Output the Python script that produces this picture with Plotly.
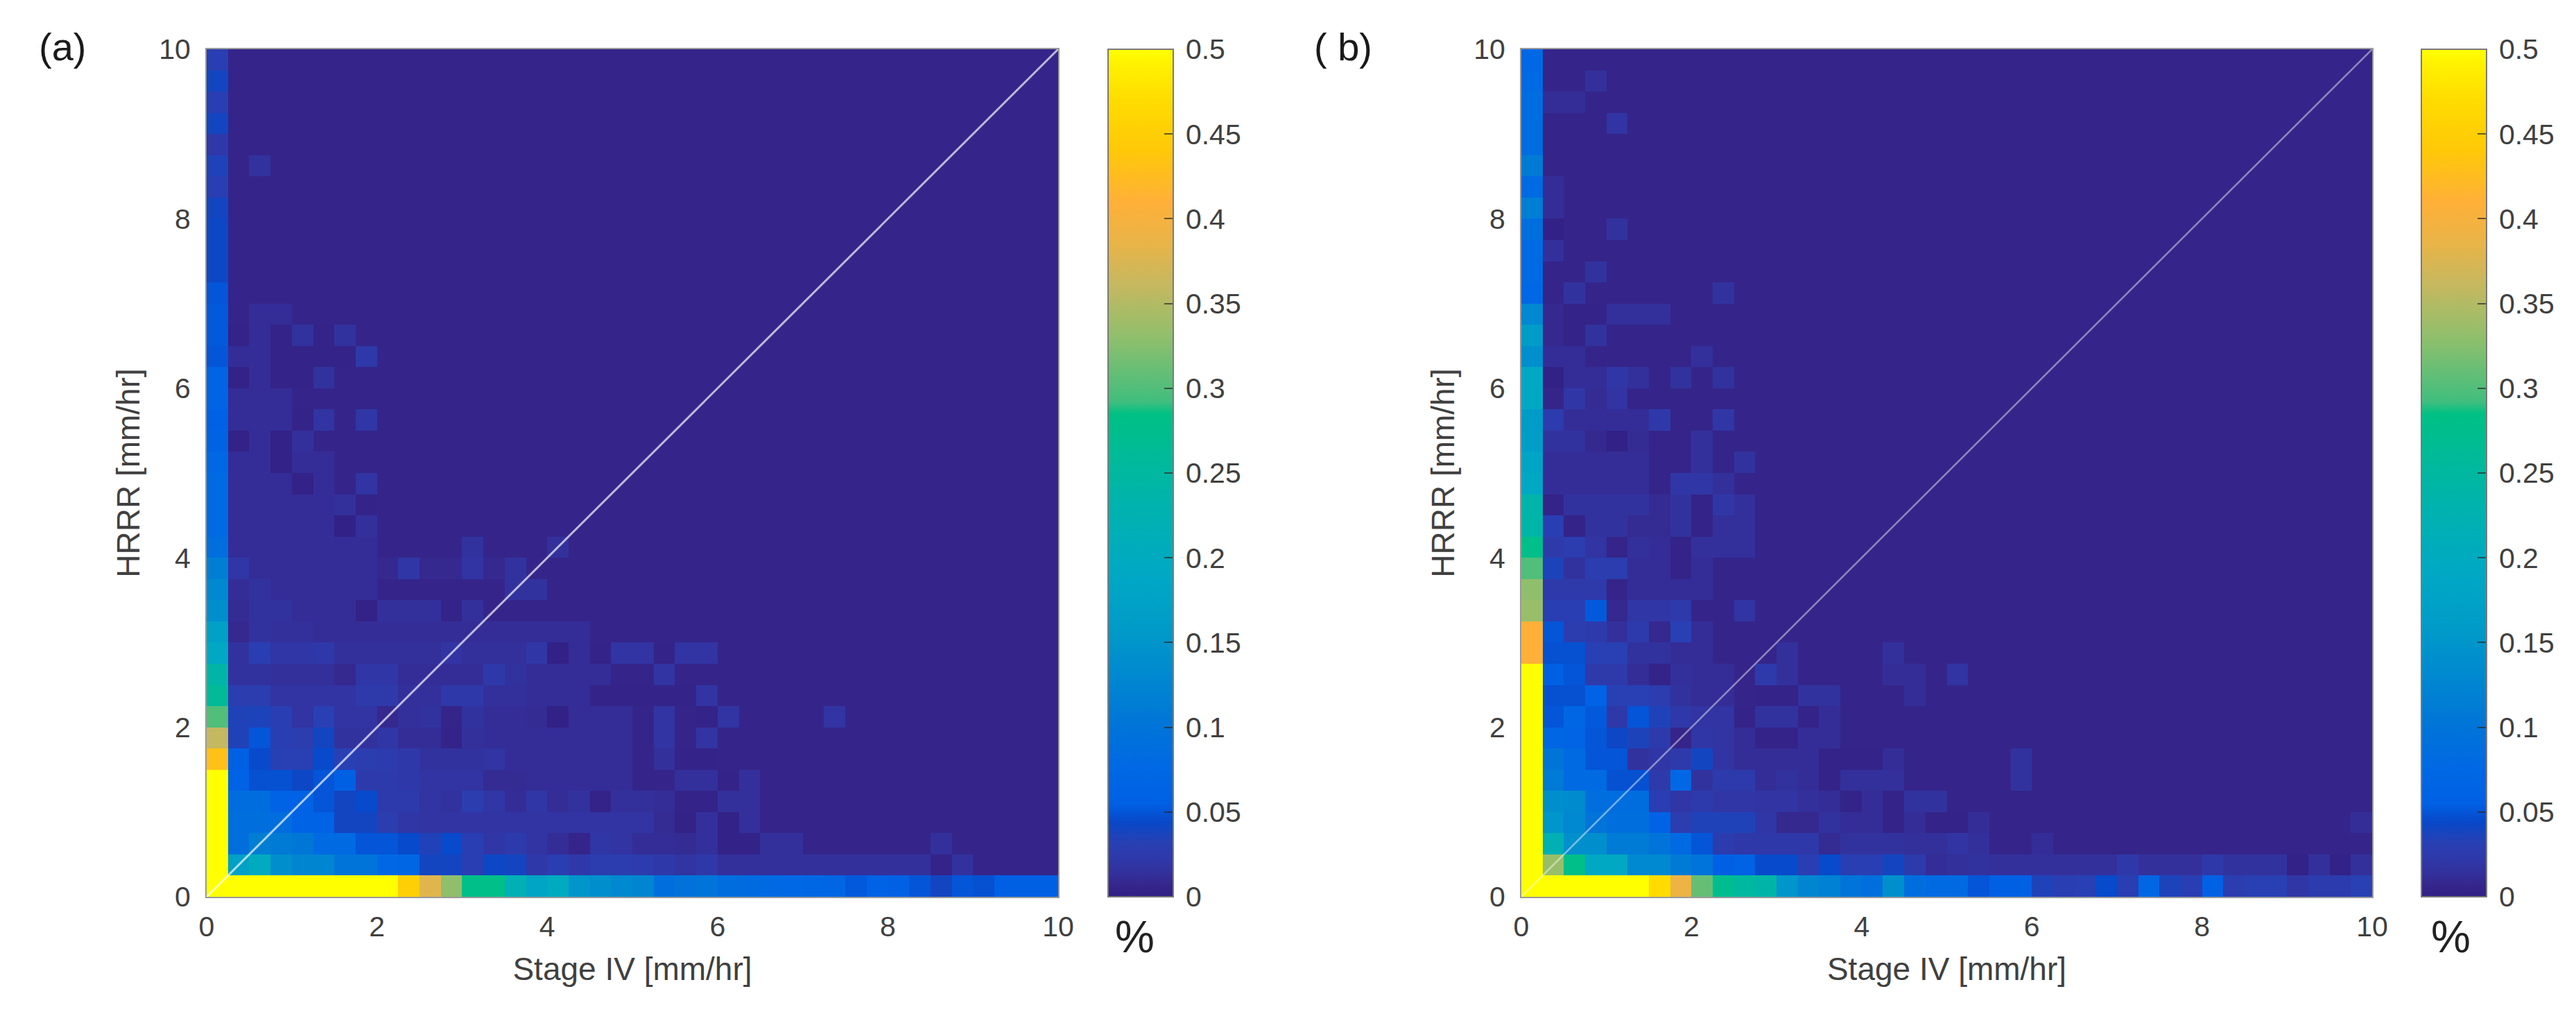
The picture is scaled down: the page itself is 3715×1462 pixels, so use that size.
import numpy as np
import plotly.graph_objects as go

W, H = 3715, 1462
N_BINS = 40
BIN_W = 0.25
BG = 6  # empty cell, thousandths of a percent

tick_xy = [0, 2, 4, 6, 8, 10]
tick_cb = [0, 0.05, 0.1, 0.15, 0.2, 0.25, 0.3, 0.35, 0.4, 0.45, 0.5]
tick_cb_text = ["0", "0.05", "0.1", "0.15", "0.2", "0.25", "0.3", "0.35", "0.4", "0.45", "0.5"]

# all values: thousandths of a percent
a_left = [500,500,500,500,500,500,430,360,300,260,240,190,170,140,130,115,90,80,80,80,
          75,62,58,65,65,50,52,52,50,42,42,42,40,30,35,22,40,30,40,30]
a_bottom = [500,500,500,500,500,500,500,500,500,450,380,330,280,280,220,180,200,150,140,130,
            125,90,95,100,85,82,80,75,72,70,52,60,58,50,40,50,48,56,56,56]
a_rows = {
 1:[170,200,140,125,125,100,100,75,70,40,40,30,42,40,22,30,22,28,28,26,22,18,22,14,14,14,14,14,14,14,14,14,14,4,16],
 2:[90,115,110,105,80,80,50,50,45,35,45,30,20,25,18,12,6,20,18,12,12,10,14,3,3,14,14,6,6,6,6,6,6,14],
 3:[90,90,85,60,60,40,40,28,20,18,18,18,18,18,18,18,18,18,18,18,10,3,14,3,14],
 4:[85,85,60,60,50,40,45,25,25,18,16,28,20,12,20,12,16,4,14,14,12,4,4,14,14],
 5:[60,48,48,42,50,55,25,25,22,18,18,18,10,10,12,12,12,12,12,6,6,14,14,4,14],
 6:[55,45,32,32,45,32,28,26,22,16,16,16,18,12,12,12,12,12,12,6,14,4,4],
 7:[35,50,30,28,40,16,16,20,12,12,4,14,12,12,12,12,12,12,12,6,18,6,18],
 8:[35,36,30,18,32,18,18,8,14,16,6,16,12,12,10,2,12,12,12,6,18,6,4,18,6,6,6,6,18],
 9:[28,28,18,18,18,18,24,24,14,14,22,22,14,14,12,12,12,5,5,5,5,5,18],
 10:[16,16,14,14,14,8,20,20,12,12,12,12,22,16,12,12,12,12,6,6,18],
 11:[16,30,20,20,22,14,14,14,14,14,18,14,14,14,20,2,12,4,18,18,4,18,18],
 12:[8,16,14,14,12,12,12,12,12,12,12,12,12,12,12,12,12],
 13:[10,16,16,12,12,12,3,14,14,14,4,14],
 14:[12,16,12,12,12,12,12,6,6,6,6,6,6,16,16],
 15:[20,12,12,12,12,12,12,8,20,8,8,18,8,16],
 16:[12,12,12,12,12,12,12,6,6,6,6,16,6,6,6,14],
 17:[12,12,12,12,12,2,14],
 18:[12,12,12,12,12,14,4],
 19:[12,12,12,3,12,6,18],
 20:[12,12,3,12,12],
 21:[3,12,3,14,6],
 22:[12,12,12,4,18,6,20],
 23:[12,12,12],
 24:[3,12,4,4,16],
 25:[12,12,4,4,4,4,22],
 26:[4,12,4,16,4,16],
 27:[6,12,12],
 34:[6,16],
}

b_left = [500,500,500,500,500,500,500,500,500,500,500,410,410,335,330,300,280,240,235,190,
          180,165,160,190,190,140,160,130,75,80,80,90,115,80,110,85,85,85,80,75]
b_bottom = [500,500,500,500,500,500,470,390,310,270,250,240,150,125,120,100,90,140,85,80,
            80,50,55,55,35,30,32,45,30,70,36,30,58,28,32,32,20,26,26,32]
b_rows = {
 1:[335,280,190,190,130,130,110,100,55,60,45,45,30,45,30,30,40,25,12,14,16,14,14,14,14,14,14,22,14,14,14,22,16,16,16,3,14,3,14],
 2:[220,140,140,110,110,100,80,50,26,22,22,22,22,10,16,16,16,14,14,18,14,6,6,12],
 3:[150,130,100,90,90,60,28,35,35,35,20,8,8,16,12,12,4,12,4,4,12,6,6,6,6,6,6,6,6,6,6,6,6,6,6,6,6,6,12],
 4:[140,135,90,85,85,30,20,25,20,20,18,18,14,12,4,12,4,16,16],
 5:[110,80,80,48,48,24,75,16,25,25,12,16,12,4,14,14,14,6,6,6,6,6,16],
 6:[100,80,50,50,16,20,24,40,18,12,12,12,12,4,4,4,12,6,6,6,6,6,16],
 7:[70,65,50,42,36,25,6,20,18,12,4,4,12,12],
 8:[50,70,52,22,50,35,22,18,18,4,16,16,4,12],
 9:[48,48,60,32,32,28,16,12,12,6,4,4,16,16,6,6,6,12],
 10:[55,50,24,24,12,4,14,12,12,6,24,14,6,6,6,6,12,12,6,18],
 11:[48,48,32,32,16,16,12,12,6,6,6,14,6,6,6,6,14],
 12:[50,28,25,14,25,8,32,12],
 13:[30,30,52,8,20,20,24,6,6,18],
 14:[24,24,24,6,12,12,12,12],
 15:[36,16,28,28,12,12,4,12],
 16:[24,28,18,6,14,12,4,14,14,14],
 17:[30,4,16,16,10,10,16,4,14,14],
 18:[4,16,16,16,16,10,16,4,20,14],
 19:[12,12,12,12,12,6,20,20,14],
 20:[12,12,12,12,12,6,6,14,6,16],
 21:[16,16,8,2,10,6,6,14],
 22:[26,12,12,12,12,22,6,6,20],
 23:[6,20,10,18],
 24:[2,12,12,20,14,6,16,6,16],
 25:[12,12,6,6,6,6,6,14],
 26:[8,4,16],
 27:[8,4,4,14,14,14],
 28:[6,16,6,6,6,6,6,6,16],
 29:[6,6,16],
 30:[14],
 31:[2,6,6,16],
 32:[12],
 33:[12],
 36:[6,6,6,18],
 37:[12,12],
 38:[6,6,14],
}

cs_stops = [(0,"#311F84"),(0.006,"#35258A"),(0.014,"#33309C"),(0.022,"#2F38A8"),(0.032,"#2840B4"),
            (0.044,"#0848C8"),(0.055,"#0060E4"),(0.075,"#0068E4"),(0.10,"#0074D8"),(0.13,"#0088D0"),
            (0.16,"#009CC8"),(0.19,"#00A8C4"),(0.22,"#00B0B4"),(0.25,"#00B8A0"),(0.285,"#00C084"),
            (0.292,"#40BE7E"),(0.33,"#90BF6C"),(0.36,"#C4B860"),(0.385,"#E8B448"),(0.41,"#FFB038"),
            (0.44,"#FFC808"),(0.47,"#FFDC00"),(0.49,"#FFF000"),(0.5,"#FFFF00")]
colorscale = [[v / 0.5, c] for v, c in cs_stops]


def grid(left, bottom, rows):
    z = np.full((N_BINS, N_BINS), float(BG))
    for r, vals in rows.items():
        z[r, 1:1 + len(vals)] = vals
    z[:, 0] = left
    z[0, :] = bottom
    return z / 1000.0


centers = (np.arange(N_BINS) + 0.5) * BIN_W

TICK_COL = "#404040"
FRAME = "#9a9a9a"
FONT = "Liberation Sans"

panels = [
    dict(z=grid(a_left, a_bottom, a_rows), x0=298, x1=1526, cb0=1598, cb1=1692, xa="x", ya="y",
         diag="rgba(255,255,255,0.68)", width=3, label="(a)", lx=90, pct=1636),
    dict(z=grid(b_left, b_bottom, b_rows), x0=2194, x1=3421, cb0=3492, cb1=3586, xa="x2", ya="y2",
         diag="rgba(255,255,255,0.45)", width=2.5, label="( b)", lx=1937, pct=3534),
]
PT, PB = 71, 1293

fig = go.Figure()
layout = dict(width=W, height=H, margin=dict(l=0, r=0, t=0, b=0, autoexpand=False), paper_bgcolor="white",
              plot_bgcolor="white", showlegend=False, font=dict(family=FONT, color=TICK_COL),
              annotations=[])

for i, p in enumerate(panels):
    fig.add_trace(go.Heatmap(
        x=centers, y=centers, z=p["z"], xaxis=p["xa"], yaxis=p["ya"], zmin=0, zmax=0.5,
        colorscale=colorscale, hoverinfo="skip",
        colorbar=dict(x=p["cb0"] / W, xanchor="left", xpad=0, y=1 - PB / H, yanchor="bottom", ypad=0,
                      len=(PB - PT) / H, lenmode="fraction", thickness=p["cb1"] - p["cb0"], thicknessmode="pixels",
                      tickvals=tick_cb, ticktext=["\u2009" + t for t in tick_cb_text], ticks="inside", ticklen=14, tickwidth=2,
                      tickcolor="rgba(40,40,40,0.7)", outlinecolor="#7a7a7a", outlinewidth=2,
                      tickfont=dict(size=41, color=TICK_COL, family=FONT)),
    ))
    fig.add_trace(go.Scatter(x=[0, 10], y=[0, 10], mode="lines", xaxis=p["xa"], yaxis=p["ya"],
                             line=dict(color=p["diag"], width=p["width"]), hoverinfo="skip"))
    suffix = "" if i == 0 else "2"
    layout["xaxis" + suffix] = dict(
        domain=[p["x0"] / W, p["x1"] / W], range=[0, 10], anchor="y" + suffix, tickvals=tick_xy, automargin=False,
        ticks="outside", ticklen=6, tickcolor="rgba(0,0,0,0)", showgrid=False, zeroline=False, showline=True, mirror=True,
        linecolor=FRAME, linewidth=2, tickfont=dict(size=41, color=TICK_COL),
        title=dict(text="Stage IV [mm/hr]", font=dict(size=46, color=TICK_COL), standoff=23))
    layout["yaxis" + suffix] = dict(
        domain=[1 - PB / H, 1 - PT / H], range=[0, 10], anchor="x" + suffix, tickvals=tick_xy, automargin=False,
        ticks="outside", ticklen=13, tickcolor="rgba(0,0,0,0)", showgrid=False, zeroline=False, showline=True, mirror=True,
        linecolor=FRAME, linewidth=2, tickfont=dict(size=41, color=TICK_COL),
        title=dict(text="HRRR [mm/hr]", font=dict(size=46, color=TICK_COL), standoff=13))
    layout["annotations"].append(dict(text=p["label"], x=p["lx"] / W, y=1 - 68 / H, xref="paper", yref="paper",
                                      showarrow=False, xanchor="center", yanchor="middle",
                                      font=dict(size=56, color="#1a1a1a", family=FONT)))
    layout["annotations"].append(dict(text="%", x=p["pct"] / W, y=1 - 1351 / H, xref="paper", yref="paper",
                                      showarrow=False, xanchor="center", yanchor="middle",
                                      font=dict(size=64, color="#222222", family=FONT)))

fig.update_layout(**layout)
fig.write_html("out.html", config=dict(displayModeBar=False), post_script="document.body.style.margin='0';")
